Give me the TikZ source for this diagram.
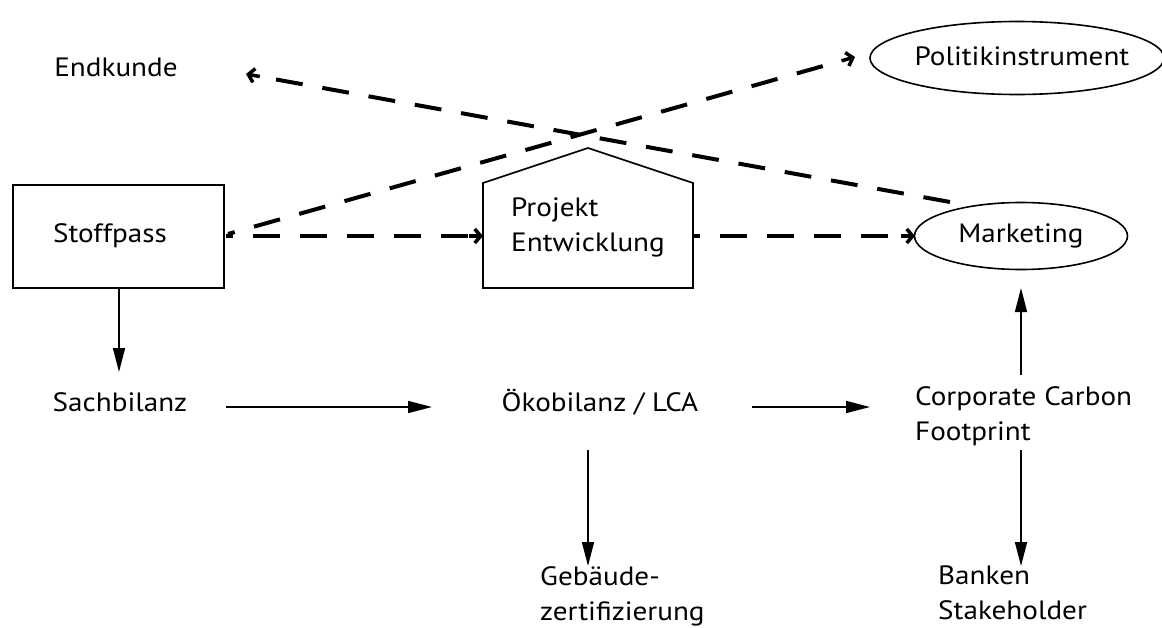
\documentclass[tikz,border=0pt]{standalone}
\usepackage{fontspec}
\setmainfont{PT Sans}[FakeStretch=1.1]
\usetikzlibrary{arrows.meta,shapes.geometric,calc}
\begin{document}
\begin{tikzpicture}[x=1pt,y=-1pt,
  lbl/.style={font=\fontsize{26.5}{35}\selectfont, inner sep=0pt, align=left},
  dashline/.style={line width=4pt, dash pattern=on 27pt off 20pt},
  barb/.style={line width=3.5pt, solid, -{Straight Barb[length=6pt,width=14pt]}},
  solidarrow/.style={line width=1.6pt, -{Triangle[length=24pt,width=12pt]}},
  ell/.style={ellipse, draw, line width=1.6pt, inner sep=0pt}
]
\useasboundingbox (0,0) rectangle (1162,627);

% nodes
\node[lbl] (endkunde) at (116,67) {Endkunde};
\node[ell, minimum width=294pt, minimum height=73pt] (politik) at (1017,58) {};
\node[lbl] (politiktext) at (1022,56) {Politikinstrument};
\node[ell, minimum width=213pt, minimum height=67pt] (marketing) at (1021,236) {};
\node[lbl] (marketingtext) at (1021,236) {Marketing};
\node[draw, line width=1.6pt, minimum width=211pt, minimum height=103pt, inner sep=0pt] (stoff) at (118.5,236.5) {};
\node[lbl] (stofftext) at (110,236) {Stoffpass};
\draw[line width=1.6pt] (483,288) -- (483,183) -- (588,148) -- (693,183) -- (693,288) -- cycle;
\coordinate (houseL) at (483,236);
\coordinate (houseR) at (693,236);
\node[lbl, anchor=west] (projekt) at (511,227) {Projekt\\Entwicklung};

\node[lbl] (sach) at (120,402) {Sachbilanz};
\node[lbl] (oeko) at (600,402) {Ökobilanz / LCA};
\node[lbl, anchor=north west] (ccf) at (915,386) {Corporate Carbon\\Footprint};
\node[lbl, anchor=north west] (geb) at (540,566) {Gebäude-\\zertifizierung};
\node[lbl, anchor=north west] (bank) at (938,566) {Banken\\Stakeholder};

% coordinates for connector ends
\coordinate (s1) at (226,236);
\coordinate (s2) at (228,234);
\coordinate (pT) at (855,57);
\coordinate (mTop) at (950,202);
\coordinate (eT) at (246,74);
\coordinate (mL) at (915,236);

% dashed connectors
\draw[dashline, dash phase=20pt] (s1) -- ($(houseL)!12pt!(s1)$);
\draw[barb] ($(houseL)!14pt!(s1)$) -- (houseL);
\draw[dashline, dash phase=20pt] (houseR) -- ($(mL)!12pt!(houseR)$);
\draw[barb] ($(mL)!14pt!(houseR)$) -- (mL);
\draw[dashline, dash phase=20pt] (s2) -- ($(pT)!18pt!(s2)$);
\draw[barb] ($(pT)!14pt!(s2)$) -- (pT);
\draw[dashline] (mTop) -- ($(eT)!18pt!(mTop)$);
\draw[barb] ($(eT)!14pt!(mTop)$) -- (eT);

% solid connectors
\coordinate (sd1) at (119,288);
\coordinate (sd2) at (119,372);
\draw[solidarrow] (sd1) -- (sd2);
\coordinate (a1) at (226,407);
\coordinate (a2) at (432,407);
\draw[solidarrow] (a1) -- (a2);
\coordinate (b1) at (752,407);
\coordinate (b2) at (870,407);
\draw[solidarrow] (b1) -- (b2);
\coordinate (c1) at (588,450);
\coordinate (c2) at (588,566);
\draw[solidarrow] (c1) -- (c2);
\coordinate (d1) at (1021,450);
\coordinate (d2) at (1021,566);
\draw[solidarrow] (d1) -- (d2);
\coordinate (u1) at (1021,375);
\coordinate (u2) at (1021,288);
\draw[solidarrow] (u1) -- (u2);
\end{tikzpicture}
\end{document}
